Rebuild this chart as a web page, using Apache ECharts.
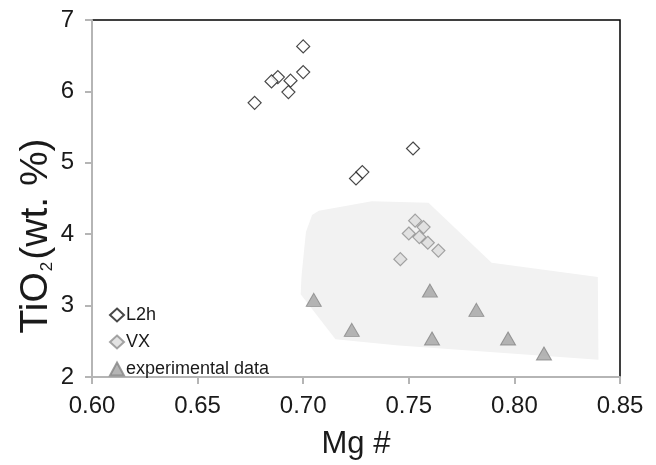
<!DOCTYPE html>
<html>
<head>
<meta charset="utf-8">
<script src="https://cdn.jsdelivr.net/npm/echarts@6/dist/echarts.min.js"></script>
<style>
  html, body { margin: 0; padding: 0; background: #fff; }
  #chart { width: 656px; height: 465px; }
</style>
</head>
<body>
<div id="chart"></div>
<script>
// Mg # vs TiO2 (wt. %)
const xTicks = [0.60, 0.65, 0.70, 0.75, 0.80, 0.85];
const yTicks = [2, 3, 4, 5, 6, 7];

// L2h samples: [Mg #, TiO2]
const l2hMg  = [0.700, 0.700, 0.694, 0.693, 0.688, 0.685, 0.677, 0.752, 0.728, 0.725];
const l2hTi  = [6.63, 6.27, 6.15, 5.99, 6.20, 6.14, 5.84, 5.20, 4.87, 4.78];

// VX samples
const vxMg = [0.753, 0.757, 0.750, 0.755, 0.759, 0.764, 0.746];
const vxTi = [4.19, 4.10, 4.01, 3.96, 3.88, 3.77, 3.65];

// Experimental data
const expMg = [0.705, 0.723, 0.760, 0.782, 0.761, 0.797, 0.814];
const expTi = [3.08, 2.66, 3.21, 2.94, 2.54, 2.54, 2.33];

// Outline of the experimental field
const fieldMg = [0.6988, 0.6992, 0.7003, 0.7013, 0.7042, 0.7074, 0.7325, 0.7593, 0.7892, 0.8395, 0.8398, 0.7452, 0.7153];
const fieldTi = [3.16, 3.41, 3.74, 4.03, 4.27, 4.33, 4.46, 4.44, 3.60, 3.40, 2.24, 2.44, 2.53];

const FONT = '"Liberation Sans", Arial, sans-serif';
const zip = (a, b) => a.map((v, i) => [v, b[i]]);

const chart = echarts.init(document.getElementById('chart'), null, { renderer: 'canvas' });

chart.setOption({
  animation: false,
  backgroundColor: '#ffffff',
  textStyle: { fontFamily: FONT },
  grid: {
    left: 92, right: 36, top: 20, bottom: 83,
    show: true, borderColor: '#000000', borderWidth: 1.5, backgroundColor: 'transparent'
  },
  xAxis: {
    type: 'value', min: 0.60, max: 0.85, interval: 0.05,
    name: 'Mg #', nameLocation: 'middle', nameGap: 52,
    nameTextStyle: { fontSize: 31, color: '#1a1a1a', fontFamily: FONT },
    axisLine: { show: true, lineStyle: { color: '#b5b5b5', width: 2 } },
    axisTick: { show: true, inside: false, length: 7, lineStyle: { color: '#b5b5b5', width: 2 } },
    axisLabel: { fontSize: 24, color: '#1a1a1a', margin: 17, formatter: v => v.toFixed(2) },
    splitLine: { show: false }
  },
  yAxis: {
    type: 'value', min: 2, max: 7, interval: 1,
    axisLine: { show: true, lineStyle: { color: '#b5b5b5', width: 2 } },
    axisTick: { show: true, inside: false, length: 7, lineStyle: { color: '#b5b5b5', width: 2 } },
    axisLabel: { fontSize: 24, color: '#1a1a1a', margin: 18 },
    splitLine: { show: false }
  },
  legend: {
    orient: 'vertical', left: 104, top: 301,
    itemWidth: 14, itemHeight: 13, itemGap: 9,
    textStyle: { fontSize: 18, color: '#1a1a1a', fontFamily: FONT, padding: [0, 0, 0, -3] },
    data: ['L2h', 'VX', 'experimental data']
  },
  graphic: [{
    type: 'text', x: 36, y: 236, rotation: Math.PI / 2,
    style: {
      text: '{a|TiO}{s|2}{a|(wt. %)}',
      align: 'center', verticalAlign: 'middle',
      rich: {
        a: { fontSize: 39, fontFamily: FONT, fill: '#1a1a1a' },
        s: { fontSize: 17, fontFamily: FONT, fill: '#1a1a1a', verticalAlign: 'bottom', padding: [18, 2, 0, 1] }
      }
    }
  }],
  series: [
    {
      name: 'field', type: 'custom', silent: true, z: 1,
      data: [0],
      renderItem: function (params, api) {
        const pts = fieldMg.map((m, i) => api.coord([m, fieldTi[i]]));
        return {
          type: 'polygon',
          shape: { points: pts },
          style: { fill: '#f2f2f2', stroke: null }
        };
      }
    },
    {
      name: 'experimental data', type: 'scatter', z: 3,
      symbol: 'triangle', symbolSize: [15, 13],
      itemStyle: { color: '#a3a3a3', borderColor: '#858585', borderWidth: 1 },
      data: zip(expMg, expTi)
    },
    {
      name: 'VX', type: 'scatter', z: 4,
      symbol: 'diamond', symbolSize: [13, 13],
      itemStyle: { color: '#dcdcdc', borderColor: '#8f8f8f', borderWidth: 1.2 },
      data: zip(vxMg, vxTi)
    },
    {
      name: 'L2h', type: 'scatter', z: 5,
      symbol: 'diamond', symbolSize: [13, 13],
      itemStyle: { color: '#ffffff', borderColor: '#1a1a1a', borderWidth: 1.2 },
      data: zip(l2hMg, l2hTi)
    }
  ]
});
</script>
</body>
</html>
